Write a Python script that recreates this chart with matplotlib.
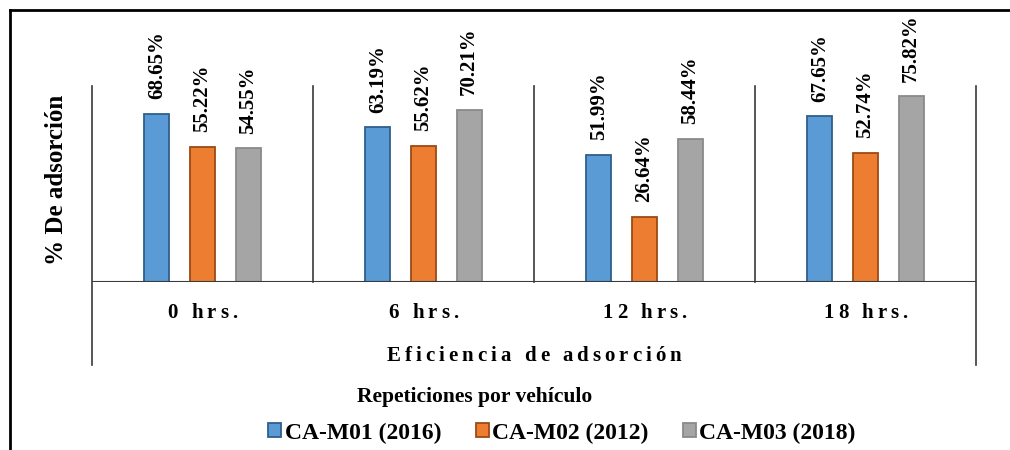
import matplotlib
matplotlib.use("Agg")
import matplotlib.pyplot as plt
from matplotlib.patches import Patch
from matplotlib.lines import Line2D
from matplotlib.font_manager import FontProperties
import matplotlib.transforms as mtransforms

categories = ["0 hrs.", "6 hrs.", "12 hrs.", "18 hrs."]
series_names = ["CA-M01 (2016)", "CA-M02 (2012)", "CA-M03 (2018)"]
m01 = [68.65, 63.19, 51.99, 67.65]
m02 = [55.22, 55.62, 26.64, 52.74]
m03 = [54.55, 70.21, 58.44, 75.82]
series_values = [m01, m02, m03]
y_label = "% De adsorción"
x_title = "Eficiencia de adsorción"
legend_title = "Repeticiones por vehículo"

face_colors = ["#5B9BD5", "#ED7D31", "#A5A5A5"]
edge_colors = ["#2F5F8A", "#9C4A14", "#8A8A8A"]

W, H = 1010, 450
plt.rcParams['font.family'] = ['Liberation Serif', 'DejaVu Serif']
plt.rcParams['font.weight'] = 'bold'
fig = plt.figure(figsize=(W / 100, H / 100), dpi=100)

ax_l, ax_r, ax_b, ax_t = 92, 976, 282, 86
ax = fig.add_axes([ax_l / W, 1 - ax_b / H, (ax_r - ax_l) / W, (ax_b - ax_t) / H])
ax.set_xlim(-0.5, len(categories) - 0.5)
ax.set_ylim(0, 80)
for sp in ax.spines.values():
    sp.set_visible(False)
ax.set_xticks([])
ax.set_yticks([])

offset = 0.206
width = 0.113
for k, (vals, fc, ec) in enumerate(zip(series_values, face_colors, edge_colors)):
    xs = [i + (k - 1) * offset for i in range(len(categories))]
    ax.bar(xs, vals, width=width, color=fc, edgecolor=ec, linewidth=1.3, zorder=3)
    for x, v in zip(xs, vals):
        ax.annotate(f"{v:.2f}%", (x, v), xytext=(0, 10.5), textcoords="offset points",
                    rotation=90, ha="center", va="bottom", fontsize=15,
                    fontweight="bold", color="black")

line_col = "#3a3a3a"
ax.axhline(0, color=line_col, lw=1.5, zorder=4)
trans = mtransforms.blended_transform_factory(ax.transData, ax.transAxes)
ext = (ax_b - 365) / (ax_b - ax_t)
for j in range(len(categories) + 1):
    x = j - 0.5
    y0 = ext if j in (0, len(categories)) else 0
    ax.plot([x, x], [y0, 1], color=line_col, lw=1.2, transform=trans, clip_on=False, zorder=4)

fig.canvas.draw()
renderer = fig.canvas.get_renderer()


def spaced_text(xc, yc_base, s, size, spacing):
    prop = FontProperties(family='Liberation Serif', weight='bold', size=size)
    space_w = 0.25 * size * 100 / 72
    widths = []
    for c in s:
        if c == " ":
            widths.append(space_w)
        else:
            widths.append(renderer.get_text_width_height_descent(c, prop, ismath=False)[0])
    total = sum(widths) + spacing * (len(s) - 1)
    x = xc - total / 2
    for c, w in zip(s, widths):
        if c != " ":
            fig.text(x / W, 1 - yc_base / H, c, ha="left", va="baseline",
                     fontproperties=prop, color="black")
        x += w + spacing


for i, cat in enumerate(categories):
    xc = ax.transData.transform((i, 0))[0]
    spaced_text(xc, 318, cat, 15, 4.0)

spaced_text((ax_l + ax_r) / 2, 361, x_title, 15, 4.0)

fig.text(57 / W, 1 - 180 / H, y_label, rotation=90, ha="center", va="center",
         fontsize=18, fontweight="bold")

fig.text(475 / W, 1 - 397 / H, legend_title, ha="center", va="center",
         fontsize=15.5, fontweight="bold")

handles = [Patch(facecolor=fc, edgecolor=ec, linewidth=1.3) for fc, ec in zip(face_colors, edge_colors)]
leg = fig.legend(handles, series_names, loc="center", bbox_to_anchor=(562 / W, 1 - 433 / H),
                 ncol=3, frameon=False, fontsize=17, handlelength=0.55, handleheight=0.55,
                 handletextpad=0.15, columnspacing=1.45, borderpad=0)
for t in leg.get_texts():
    t.set_fontweight("bold")

# figure border (left and top)
fig.add_artist(Line2D([10 / W, 10 / W], [0, 1 - 10 / H], color="black", lw=2, transform=fig.transFigure))
fig.add_artist(Line2D([10 / W, 1], [1 - 10 / H, 1 - 10 / H], color="black", lw=2, transform=fig.transFigure))

fig.savefig("out.png", dpi=100)
